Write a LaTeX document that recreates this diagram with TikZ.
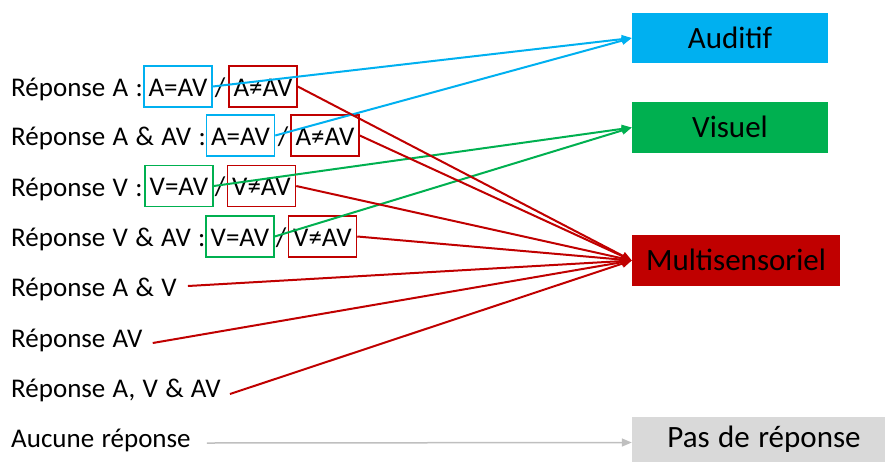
\documentclass[tikz,border=0pt]{standalone}
\usepackage{fontspec}
\setmainfont{Carlito}[WordSpace=1.2]
\usetikzlibrary{arrows.meta}
\definecolor{cblue}{HTML}{00B0F0}
\definecolor{cgreen}{HTML}{00B050}
\definecolor{cred}{HTML}{C00000}
\definecolor{cgray}{HTML}{D9D9D9}
\definecolor{cline}{HTML}{BFBFBF}
\begin{document}
\begin{tikzpicture}[x=1pt,y={(0pt,-1pt)},
 lbl/.style={anchor=base west,inner sep=0pt,font=\fontsize{27}{32}\selectfont},
 sbox/.style={draw=#1,line width=1.5pt,minimum width=68pt,minimum height=41pt,inner sep=0pt,text height=19.5pt,text depth=0pt,font=\fontsize{27}{32}\selectfont},
 catbox/.style={fill=#1,minimum width=196pt,minimum height=50pt,inner sep=0pt,text height=20pt,text depth=0pt,font=\fontsize{31}{36}\selectfont},
 conn/.style={draw=#1,line width=2pt,-{Triangle[length=10pt,width=8pt]}},
 slash/.style={anchor=base,inner sep=0pt,font=\fontsize{27}{32}\selectfont}]
\useasboundingbox (0,0) rectangle (885,461);
\clip (0,0) rectangle (885,461);

% category boxes
\node[catbox=cblue] (aud) at (730,38) {Auditif};
\node[catbox=cgreen,minimum height=51pt] (vis) at (730,127.5) {Visuel};
\node[catbox=cred,minimum width=208pt,minimum height=51pt] (mul) at (736,260.5) {Multisensoriel};
\node[catbox=cgray,minimum width=264pt,minimum height=51pt,text depth=10pt] (pas) at (764,442.5) {Pas de réponse};

% left labels
\node[lbl] (t1) at (11,96) {Réponse A :};
\node[lbl] (t2) at (11,145) {Réponse A \& AV :};
\node[lbl] (t3) at (11,196) {Réponse V :};
\node[lbl] (t4) at (11,246) {Réponse V \& AV :};
\node[lbl] (t5) at (11,296) {Réponse A \& V};
\node[lbl] (t6) at (11,347) {Réponse AV};
\node[lbl] (t7) at (11,397) {Réponse A, V \& AV};
\node[lbl] (t8) at (11,447) {Aucune réponse};

% small boxes
\node[sbox=cblue] (b1a) at (178,86.5) {A=AV};
\node[sbox=cred] (b1n) at (263,86.5) {A≠AV};
\node[slash] (s1) at (220,96) {/};
\node[sbox=cblue] (b2a) at (240.5,135.5) {A=AV};
\node[sbox=cred] (b2n) at (325,135.5) {A≠AV};
\node[slash] (s2) at (283,145) {/};
\node[sbox=cgreen] (b3a) at (179,186) {V=AV};
\node[sbox=cred] (b3n) at (261.5,186) {V≠AV};
\node[slash] (s3) at (220,195.5) {/};
\node[sbox=cgreen] (b4a) at (240,236.5) {V=AV};
\node[sbox=cred] (b4n) at (322.5,236.5) {V≠AV};
\node[slash] (s4) at (281,246) {/};

% connectors
\draw[conn=cblue] (b1a.east) -- (aud.west);
\draw[conn=cblue] (b2a.east) -- (aud.west);
\draw[conn=cgreen] (b3a.east) -- (vis.west);
\draw[conn=cgreen] (b4a.east) -- (vis.west);
\draw[conn=cred] (b1n.east) -- (mul.west);
\draw[conn=cred] (b2n.east) -- (mul.west);
\draw[conn=cred] (b3n.east) -- (mul.west);
\draw[conn=cred] (b4n.east) -- (mul.west);
\draw[conn=cred] ([xshift=11pt,yshift=10pt]t5.base east) -- (mul.west);
\draw[conn=cred] ([xshift=10pt,yshift=4pt]t6.base east) -- (mul.west);
\draw[conn=cred] ([xshift=9pt,yshift=3pt]t7.base east) -- (mul.west);
\draw[conn=cline,line width=1.5pt] ([xshift=16pt,yshift=4pt]t8.base east) -- (pas.west);
\end{tikzpicture}
\end{document}
